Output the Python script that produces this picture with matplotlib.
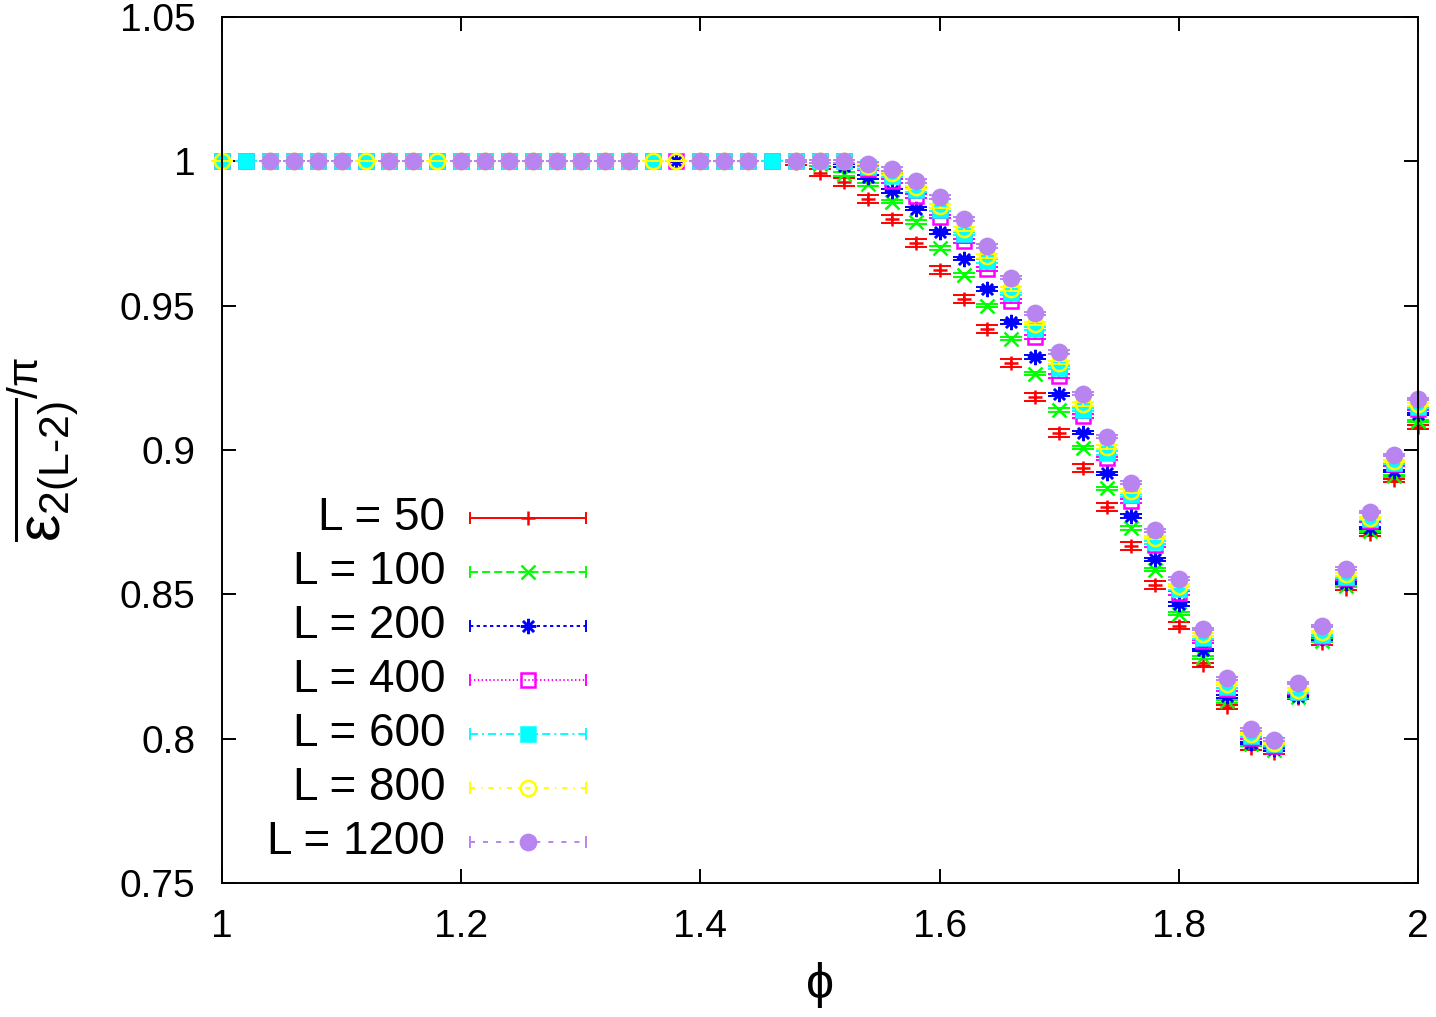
import numpy as np
import matplotlib
matplotlib.use('Agg')
import matplotlib.pyplot as plt
from matplotlib.ticker import FuncFormatter, FixedLocator

plt.rcParams['font.family'] = ['Liberation Sans', 'DejaVu Sans']
plt.rcParams['mathtext.fontset'] = 'custom'
plt.rcParams['mathtext.rm'] = 'Liberation Sans'
plt.rcParams['mathtext.it'] = 'Liberation Sans'
plt.rcParams['mathtext.sf'] = 'Liberation Sans'
plt.rcParams['lines.scale_dashes'] = False

n = np.nan

phi = [1.00, 1.02, 1.04, 1.06, 1.08, 1.10, 1.12, 1.14, 1.16, 1.18,
       1.20, 1.22, 1.24, 1.26, 1.28, 1.30, 1.32, 1.34, 1.36, 1.38,
       1.40, 1.42, 1.44, 1.46, 1.48, 1.50, 1.52, 1.54, 1.56, 1.58,
       1.60, 1.62, 1.64, 1.66, 1.68, 1.70, 1.72, 1.74, 1.76, 1.78,
       1.80, 1.82, 1.84, 1.86, 1.88, 1.90, 1.92, 1.94, 1.96, 1.98, 2.00]

# energy / pi for each system size
L50 = [1, 1, 1, 1, 1, 1, 1, 1, 1, 1, 1, 1, 1, 1, 1, 1, 1, 1, 1, 1, 1, 1, 1, 1,
       0.9993, 0.996, 0.9927, 0.987, 0.980, 0.9716, 0.9624, 0.9522, 0.942, 0.930,
       0.9184, 0.906, 0.8939, 0.8802, 0.8667, 0.8531, 0.8392, 0.8255, 0.811, 0.7968,
       0.7951, 0.8141, 0.8332, 0.852, 0.8708, 0.8895, 0.908]
L100 = [1, 1, 1, 1, 1, 1, 1, 1, 1, 1, 1, 1, 1, 1, 1, 1, 1, 1, 1, 1, 1, 1, 1, 1,
        1.0, 0.999, 0.9956, 0.992, 0.986, 0.979, 0.970, 0.9606, 0.950, 0.9386,
        0.9265, 0.9139, 0.9008, 0.8867, 0.873, 0.8586, 0.8433, 0.8282, 0.813, 0.798,
        0.7960, 0.8146, 0.834, 0.853, 0.872, 0.891, 0.9101]
L200 = [1, 1, 1, 1, 1, 1, 1, 1, 1, 1, 1, 1, 1, 1, 1, 1, 1, 1, 1, 1, 1, 1, 1, 1,
        1.0, 1.0, 0.9985, 0.9946, 0.9898, 0.9836, 0.9756, 0.9663, 0.9558, 0.9444,
        0.9322, 0.9193, 0.906, 0.8919, 0.8771, 0.8621, 0.8467, 0.8307, 0.8147, 0.7986,
        0.7963, 0.8148, 0.8347, 0.854, 0.873, 0.8927, 0.9124]
L400 = [1, 1, 1, 1, 1, 1, 1, 1, 1, 1, 1, 1, 1, 1, 1, 1, 1, 1, 1, 1, 1, 1, 1, 1,
        1.0, 1.0, 1.0, 0.9975, 0.9932, 0.988, 0.9808, 0.9724, 0.9627, 0.9516,
        0.9392, 0.9256, 0.9118, 0.8971, 0.8823, 0.867, 0.8505, 0.8338, 0.8171, 0.8003,
        0.7974, 0.8160, 0.8355, 0.8555, 0.8754, 0.895, 0.9141]
L600 = [1, 1, 1, 1, 1, 1, 1, 1, 1, 1, 1, 1, 1, 1, 1, 1, 1, 1, 1, n, 1, 1, 1, 1,
        1.0, 1.0, 1.0, 0.998, 0.9950, 0.990, 0.9833, 0.975, 0.9655, 0.9543,
        0.942, 0.9285, 0.914, 0.899, 0.8843, 0.868, 0.852, 0.835, 0.818, 0.801,
        0.798, 0.8162, 0.836, 0.856, 0.876, 0.8955, 0.915]
L800 = [1, n, 1, 1, 1, 1, 1, 1, 1, 1, 1, 1, 1, 1, 1, 1, 1, 1, 1, 1, 1, 1, 1, n,
        1.0, 1.0, 1.0, 0.9985, 0.9958, 0.991, 0.9846, 0.9765, 0.9672, 0.9557,
        0.9438, 0.9303, 0.916, 0.901, 0.8858, 0.8696, 0.853, 0.8361, 0.819, 0.8017,
        0.7985, 0.817, 0.837, 0.8569, 0.8765, 0.8962, 0.9158]
L1200 = [n, n, 1, 1, 1, 1, n, 1, 1, n, 1, 1, 1, 1, 1, 1, 1, 1, n, n, 1, 1, 1, n,
         1.0, 1.0, 1.0, 0.999, 0.9973, 0.9932, 0.9877, 0.980, 0.9707, 0.9597,
         0.9473, 0.934, 0.9195, 0.9046, 0.8887, 0.8722, 0.8554, 0.838, 0.8209, 0.8032,
         0.7997, 0.8193, 0.839, 0.8589, 0.8785, 0.8982, 0.9176]

# statistical errors (only L = 50 visibly larger than the symbols)
err_L50 = [0, 0, 0, 0, 0, 0, 0, 0, 0, 0, 0, 0, 0, 0, 0, 0, 0, 0, 0, 0, 0, 0, 0, 0,
           0.0005, 0.0012, 0.0014, 0.0014, 0.0014, 0.0014, 0.0014, 0.0014, 0.0014, 0.0014,
           0.0014, 0.0014, 0.0014, 0.0014, 0.0014, 0.0014, 0.0013, 0.0008, 0.0008, 0.0006,
           0.0005, 0.0005, 0.0006, 0.0006, 0.0006, 0.0006, 0.0006]
err_other = [0, 0, 0, 0, 0, 0, 0, 0, 0, 0, 0, 0, 0, 0, 0, 0, 0, 0, 0, 0, 0, 0, 0, 0,
             0.0003, 0.0005, 0.0006, 0.0006, 0.0006, 0.0006, 0.0006, 0.0006, 0.0006, 0.0006,
             0.0006, 0.0006, 0.0006, 0.0006, 0.0006, 0.0006, 0.0006, 0.0005, 0.0005, 0.0004,
             0.0004, 0.0004, 0.0004, 0.0004, 0.0004, 0.0004, 0.0004]

labels = ['L = 50', 'L = 100', 'L = 200', 'L = 400', 'L = 600', 'L = 800', 'L = 1200']
series = [L50, L100, L200, L400, L600, L800, L1200]
errors = [err_L50, err_other, err_other, err_other, err_other, err_other, err_other]

colors = ['#ff0000', '#00ff00', '#0000ff', '#ff00ff', '#00ffff', '#ffff00', '#b784f0']
markers = ['+', 'x', (8, 2, 0), 's', 's', 'o', 'o']
msizes = [10, 10, 11, 10, 10, 11, 11]
mfills = ['none', 'none', 'none', 'none', '#00ffff', 'none', '#b784f0']
dashes = ['-', (0, (5.8, 2.9)), (0, (2.4, 2.4)), (0, (1.0, 1.8)),
          (0, (5.8, 2.9, 1.4, 2.9)), (0, (3.6, 4.3, 1.1, 4.3)), (0, (3.6, 5.8))]

fig = plt.figure(figsize=(14.36, 10.17), dpi=100)
ax = fig.add_axes([222 / 1436, 1 - 883 / 1017, 1196 / 1436, 866 / 1017])

for y, e, c, m, ms, mf in zip(series, errors, colors, markers, msizes, mfills):
    ax.errorbar(phi, y, yerr=e, fmt='none', ecolor=c, elinewidth=1.4,
                capsize=8, capthick=1.4, clip_on=False)
    ax.plot(phi, y, linestyle='none', marker=m, ms=ms, mec=c, mfc=mf,
            mew=1.8, clip_on=False)

# gnuplot style key: label right aligned, sample line with error caps
x_txt, x0, x1 = 0.1865, 0.2074, 0.3043
for i, (lab, c, m, ms, mf, ls) in enumerate(zip(labels, colors, markers, msizes, mfills, dashes)):
    yk = (883 - (518 + 54 * i)) / 866
    ax.text(x_txt, yk, lab, transform=ax.transAxes, ha='right', va='center',
            fontsize=33)
    ax.plot([x0, x1], [yk, yk], transform=ax.transAxes, color=c, lw=1.4,
            linestyle=ls, clip_on=False)
    for xc in (x0, x1):
        ax.plot([xc, xc], [yk - 0.006, yk + 0.006], transform=ax.transAxes,
                color=c, lw=1.4, clip_on=False)
    ax.plot([(x0 + x1) / 2], [yk], transform=ax.transAxes, marker=m, ms=ms,
            mec=c, mfc=mf, mew=1.8, linestyle='none', clip_on=False)

ax.set_xlim(1, 2)
ax.set_ylim(0.75, 1.05)
ax.xaxis.set_major_locator(FixedLocator([1, 1.2, 1.4, 1.6, 1.8, 2]))
ax.yaxis.set_major_locator(FixedLocator([0.75, 0.8, 0.85, 0.9, 0.95, 1, 1.05]))
fmt = FuncFormatter(lambda v, p: '%g' % round(v, 2))
ax.xaxis.set_major_formatter(fmt)
ax.yaxis.set_major_formatter(fmt)
ax.tick_params(direction='in', length=10, width=1.4, top=True, right=True,
               labelsize=28)
ax.tick_params(axis='y', pad=19)
ax.tick_params(axis='x', pad=19)
for s in ax.spines.values():
    s.set_linewidth(1.4)

ax.set_xlabel('ϕ', fontsize=36, labelpad=12)
ax.set_ylabel(r'$\overline{\varepsilon_{2(\text{L-2})}}^{/\pi}$', fontsize=44)
ax.yaxis.set_label_coords(-0.118, 0.5)

fig.savefig('out.png', dpi=100)
